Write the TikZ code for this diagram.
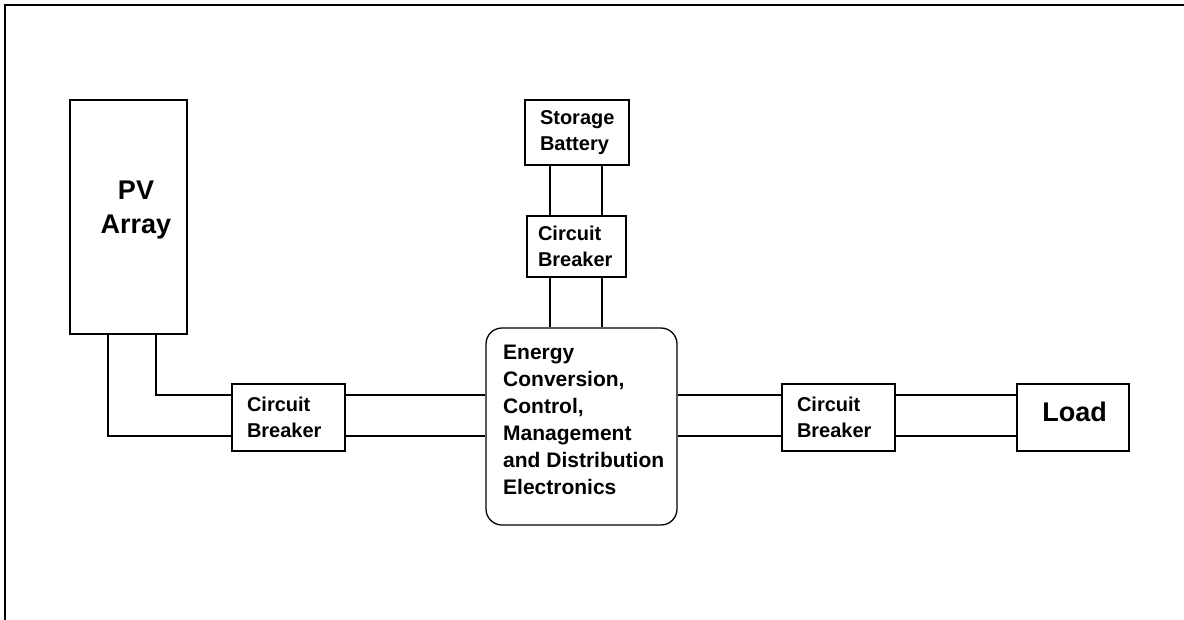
\documentclass[tikz,border=0pt]{standalone}
\usepackage{fontspec}
\setmainfont{Liberation Sans}
\begin{document}
\begin{tikzpicture}[x=1pt,y=-1pt,
  box/.style={draw=black, line width=1.3pt, rectangle, inner sep=0pt},
  small/.style={font=\bfseries\fontsize{20}{26}\selectfont, align=left},
  mid/.style={font=\bfseries\fontsize{21}{27}\selectfont, align=left},
  big/.style={font=\bfseries\fontsize{27}{34}\selectfont, align=center, inner sep=0pt},
  wire/.style={draw=black, line width=1.3pt}]
\useasboundingbox (0,0) rectangle (1184,619);
% outer frame (top and left edges)
\draw[line width=2.4pt] (5,640) -- (5,5) -- (1200,5);

% blocks
\node[box, minimum width=117pt, minimum height=234pt] (pv) at (128.5,217) {};
\node[big] (pvlabel) at (136,210) {PV\\Array};

\node[box, small, text width=83pt, inner xsep=15pt, minimum height=67pt] (cb1) at (288.5,417.5) {Circuit\\Breaker};

\node[box, rounded corners=16pt, minimum width=191pt, minimum height=197pt] (ecc) at (581.5,426.5) {};
\node[mid, anchor=north west, inner sep=0pt] (ecclabel) at (503,345)
  {Energy\\Conversion,\\Control,\\Management\\and Distribution\\Electronics};

\node[box, small, text width=74pt, inner xsep=15pt, minimum height=65pt] (bat) at (577,132.5) {Storage\\Battery};
\node[box, small, text width=77pt, inner xsep=11pt, minimum height=61pt] (cb2) at (576.5,246.5) {Circuit\\Breaker};

\node[box, small, text width=83pt, inner xsep=15pt, minimum height=67pt] (cb3) at (838.5,417.5) {Circuit\\Breaker};

\node[box, minimum width=112pt, minimum height=67pt] (load) at (1073,417.5) {};
\node[big] (loadlabel) at (1074.5,412) {Load};

% PV array to first breaker
\draw[wire] ([xshift=-20.5pt]pv.south) |- ([yshift=-18.5pt]cb1.west);
\draw[wire] ([xshift=27.5pt]pv.south) |- ([yshift=22.5pt]cb1.west);

% first breaker to electronics
\draw[wire] ([yshift=22.5pt]cb1.east) -- ([yshift=22.5pt]cb1.east -| ecc.west);
\draw[wire] ([yshift=-18.5pt]cb1.east) -- ([yshift=-18.5pt]cb1.east -| ecc.west);

% electronics to load breaker
\draw[wire] ([yshift=22.5pt]cb3.west -| ecc.east) -- ([yshift=22.5pt]cb3.west);
\draw[wire] ([yshift=-18.5pt]cb3.west -| ecc.east) -- ([yshift=-18.5pt]cb3.west);

% load breaker to load
\draw[wire] ([yshift=22.5pt]cb3.east) -- ([yshift=22.5pt]cb3.east -| load.west);
\draw[wire] ([yshift=-18.5pt]cb3.east) -- ([yshift=-18.5pt]cb3.east -| load.west);

% battery to breaker to electronics
\draw[wire] ([xshift=-27pt]bat.south) -- ([xshift=-27pt]bat.south |- cb2.north);
\draw[wire] ([xshift=25pt]bat.south) -- ([xshift=25pt]bat.south |- cb2.north);
\draw[wire] ([xshift=-27pt]bat.south |- cb2.south) -- ([xshift=-27pt]bat.south |- ecc.north);
\draw[wire] ([xshift=25pt]bat.south |- cb2.south) -- ([xshift=25pt]bat.south |- ecc.north);
\end{tikzpicture}
\end{document}
